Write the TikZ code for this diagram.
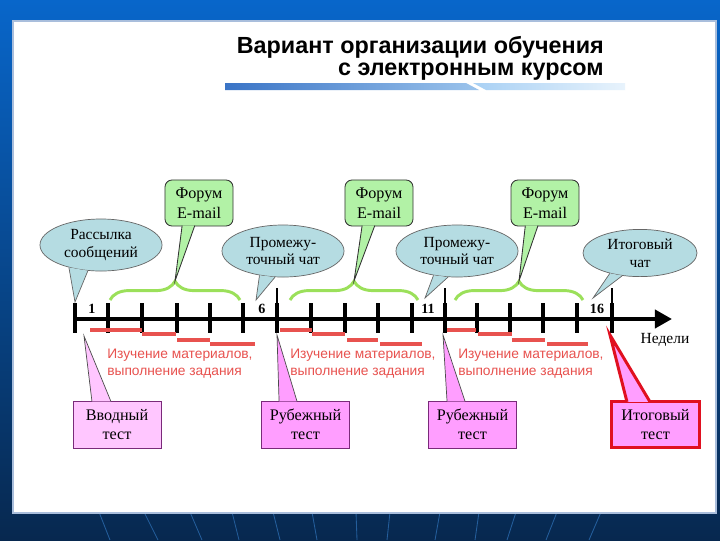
\documentclass[tikz,border=0pt]{standalone}
\usepackage{fontspec}
\setmainfont{Liberation Serif}
\setsansfont{Liberation Sans}
\usepackage{xcolor}
\usepackage{tikz}
\usetikzlibrary{arrows.meta,shapes.geometric,decorations.pathreplacing}

\definecolor{frametop}{HTML}{0866CA}
\definecolor{framemid}{HTML}{0A4C98}
\definecolor{framebot}{HTML}{07284F}
\definecolor{stripeblue}{HTML}{245E9C}
\definecolor{panelline}{HTML}{A9BEDC}
\definecolor{bardark}{HTML}{3A74C6}
\definecolor{barmid}{HTML}{9CC4EC}
\definecolor{barlight}{HTML}{A8D0F4}
\definecolor{barpale}{HTML}{E8F3FC}
\definecolor{chatfill}{HTML}{B5DCE2}
\definecolor{forumfill}{HTML}{B2F2A6}
\definecolor{bracegreen}{HTML}{9BE05A}
\definecolor{studyred}{HTML}{E8524F}
\definecolor{testpink}{HTML}{FF9EFF}
\definecolor{testlight}{HTML}{FFC6FF}
\definecolor{testedge}{HTML}{7A2A7A}
\definecolor{finalred}{HTML}{E01020}

\tikzset{
  title/.style={inner sep=0pt, font=\sffamily\bfseries\fontsize{16.6}{20}\selectfont},
  axis/.style={line width=3.5pt, -{Triangle[length=0.43cm, width=0.45cm]}},
  tick/.style={line width=3.5pt},
  major/.style={line width=1.6pt},
  wk/.style={inner sep=0pt, font=\bfseries\fontsize{10}{12}\selectfont},
  brace/.style={draw=bracegreen, line width=2.1pt, decorate,
    decoration={brace, amplitude=0.47cm}},
  study/.style={draw=studyred, line width=2.8pt},
  studytext/.style={inner sep=0pt, anchor=west, align=left, text=studyred,
    font=\sffamily\fontsize{9.8}{12}\selectfont},
  chat/.style={ellipse, draw=black!60, fill=chatfill, line width=0.5pt,
    minimum width=3.05cm, minimum height=1.3cm, inner sep=0pt, align=center,
    font=\fontsize{11}{12.5}\selectfont},
  chatptr/.style={fill=chatfill, draw=black!60, line width=0.5pt},
  forum/.style={rectangle, rounded corners=5pt, draw=black!80, fill=forumfill,
    line width=0.6pt, minimum width=1.7cm, minimum height=1.15cm, inner sep=0pt,
    align=center, font=\fontsize{11.5}{14}\selectfont},
  forumptr/.style={fill=forumfill, draw=black!80, line width=0.6pt},
  testbox/.style={rectangle, draw=testedge, fill=testpink, line width=0.5pt,
    minimum width=2.2cm, minimum height=1.175cm, inner sep=0pt, align=center,
    font=\fontsize{11.5}{13.5}\selectfont},
  testptr/.style={fill=testpink, draw=black!70, line width=0.5pt},
  finalbox/.style={testbox, draw=finalred, line width=2.1pt,
    minimum width=2.22cm, minimum height=1.17cm},
  finalptr/.style={fill=testpink, draw=finalred, line width=2.1pt}
}

\begin{document}
\begin{tikzpicture}[x=0.025cm, y=-0.025cm]
\useasboundingbox (0,0) rectangle (720,540);

%% Frame %%
\shade[top color=frametop, middle color=framemid, bottom color=framebot] (0,0) rectangle (720,540);
\draw[stripeblue, line width=0.6pt] (99,512) -- (110,540) (144,512) -- (158,540)
  (190,512) -- (202,540) (232,512) -- (239,540) (273,512) -- (280,540)
  (312,512) -- (317,540) (356,512) -- (357,540) (390,512) -- (387,540)
  (440,512) -- (435,540) (479,512) -- (475,540) (516,512) -- (507,540)
  (557,512) -- (546,540) (601,512) -- (589,540);
\draw[fill=white, draw=panelline, line width=1.5pt] (13,21) rectangle (716,513);

%% Title %%
\node[title, anchor=base east] (title1) at (604,53) {Вариант организации обучения};
\node[title, anchor=base east] (title2) at (604,75) {с электронным курсом};
\shade[left color=bardark, right color=barmid] (225,83) -- (466,83) -- (479,90) -- (225,90) -- cycle;
\shade[left color=barlight, right color=barpale] (473,83) -- (625,83) -- (625,90) -- (486,90) -- cycle;

%% Timeline %%
\coordinate (t0) at (73,319);
\coordinate (tend) at (672,319);
\draw[axis] (t0) -- (tend);

\draw[tick] (75,303) -- (75,333);
\draw[tick] (108,303) -- (108,333);
\draw[tick] (142,303) -- (142,333);
\draw[tick] (177,303) -- (177,333);
\draw[tick] (210,303) -- (210,333);
\draw[tick] (243,303) -- (243,333);
\draw[tick] (277,303) -- (277,333);
\draw[tick] (311,303) -- (311,333);
\draw[tick] (345,303) -- (345,333);
\draw[tick] (378,303) -- (378,333);
\draw[tick] (412,303) -- (412,333);
\draw[tick] (445,303) -- (445,333);
\draw[tick] (477,303) -- (477,333);
\draw[tick] (510,303) -- (510,333);
\draw[tick] (543,303) -- (543,333);
\draw[tick] (577,303) -- (577,333);
\draw[tick] (612,303) -- (612,333);

\draw[major] (277,288) -- (277,304);
\draw[major] (445,288) -- (445,304);
\draw[major] (612,288) -- (612,304);

\node[wk] (n1) at (92,309) {1};
\node[wk] (n6) at (262,309) {6};
\node[wk] (n11) at (428,309) {11};
\node[wk] (n16) at (597,309) {16};

\node[inner sep=0pt, font=\fontsize{11}{13}\selectfont] (weeks) at (665,340) {Недели};

%% Braces %%
\draw[brace] (110,300) -- (240,300);
\draw[brace] (290,300) -- (418,300);
\draw[brace] (455,300) -- (583,300);

\coordinate (br1) at (175,281);
\coordinate (br2) at (354,281);
\coordinate (br3) at (519,281);

%% Study %%
\draw[study] (90,330) -- (142,330);
\draw[study] (142,334) -- (176,334);
\draw[study] (177,340) -- (210,340);
\draw[study] (210,344) -- (255,344);

\draw[study] (280,330) -- (312,330);
\draw[study] (312,334) -- (345,334);
\draw[study] (347,340) -- (378,340);
\draw[study] (380,344) -- (422,344);

\draw[study] (447,330) -- (476,330);
\draw[study] (478,334) -- (512,334);
\draw[study] (512,340) -- (545,340);
\draw[study] (547,344) -- (588,344);

\node[studytext] (st1) at (107,363.5) {Изучение материалов,\\выполнение задания};
\node[studytext] (st2) at (290,363.5) {Изучение материалов,\\выполнение задания};
\node[studytext] (st3) at (458,363.5) {Изучение материалов,\\выполнение задания};

%% Chats %%
\coordinate (c1tip) at (75,302);
\coordinate (c2tip) at (256,300);
\coordinate (c3tip) at (425,298);
\coordinate (c4tip) at (593,298);

\node[chat] (chat1) at (101,245) {Рассылка\\сообщений};
\draw[chatptr] (chat1.215) -- (c1tip) -- (chat1.243);
\node[chat] (chat2) at (283,251) {Промежу-\\точный чат};
\draw[chatptr] (chat2.226) -- (c2tip) -- (chat2.253);
\node[chat] (chat3) at (457,251) {Промежу-\\точный чат};
\draw[chatptr] (chat3.226) -- (c3tip) -- (chat3.251);
\node[chat, minimum width=2.85cm, minimum height=1.18cm] (chat4) at (640,253) {Итоговый\\чат};
\draw[chatptr] (chat4.214) -- (c4tip) -- (chat4.232);

%% Forum %%
\node[forum] (forum1) at (199,203) {Форум\\E-mail};
\draw[forumptr] ([xshift=-12pt,yshift=0.6pt]forum1.south) -- (br1) -- ([xshift=-3pt,yshift=0.6pt]forum1.south);
\node[forum] (forum2) at (379,203) {Форум\\E-mail};
\draw[forumptr] ([xshift=-12pt,yshift=0.6pt]forum2.south) -- (br2) -- ([xshift=-3pt,yshift=0.6pt]forum2.south);
\node[forum] (forum3) at (545,203) {Форум\\E-mail};
\draw[forumptr] ([xshift=-14pt,yshift=0.6pt]forum3.south) -- (br3) -- ([xshift=-5pt,yshift=0.6pt]forum3.south);

%% Tests %%
\coordinate (p1tip) at (84,336);
\coordinate (p2tip) at (277,335);
\coordinate (p3tip) at (443,335);
\coordinate (p4tip) at (610,335);

\node[testbox, fill=testlight] (test1) at (117,424.5) {Вводный\\тест};
\draw[testptr, fill=testlight] ([xshift=-17.8pt,yshift=-0.6pt]test1.north) -- (p1tip) -- ([xshift=-4.3pt,yshift=-0.6pt]test1.north);
\node[testbox] (test2) at (305.5,424.5) {Рубежный\\тест};
\draw[testptr] ([xshift=-18.8pt,yshift=-0.6pt]test2.north) -- (p2tip) -- ([xshift=-6pt,yshift=-0.6pt]test2.north);
\node[testbox] (test3) at (472.5,424.5) {Рубежный\\тест};
\draw[testptr] ([xshift=-18.1pt,yshift=-0.6pt]test3.north) -- (p3tip) -- ([xshift=-5.3pt,yshift=-0.6pt]test3.north);
\node[finalbox] (test4) at (655.5,424.5) {Итоговый\\тест};
\draw[finalptr] ([xshift=-20.3pt,yshift=-1.6pt]test4.north) -- (p4tip) -- ([xshift=-3.9pt,yshift=-1.6pt]test4.north);

\end{tikzpicture}
\end{document}
